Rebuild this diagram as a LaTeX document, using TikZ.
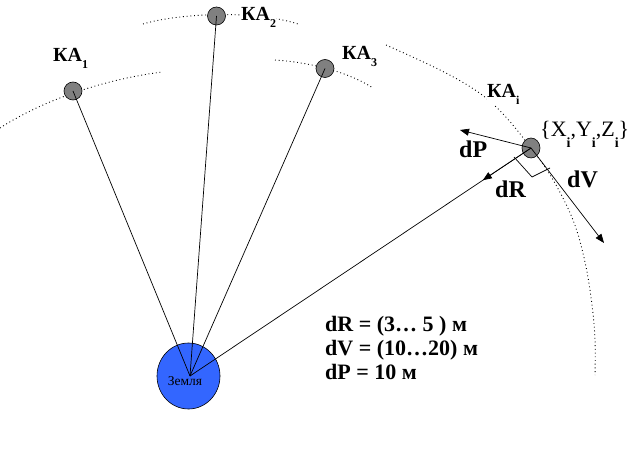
\documentclass[tikz,border=0pt]{standalone}
\usepackage{fontspec}
\setmainfont{Liberation Serif}
\usetikzlibrary{arrows.meta,calc,shapes.geometric}
\definecolor{earthblue}{RGB}{51,102,255}
\definecolor{satgray}{RGB}{128,128,128}
\newcommand\kasub[1]{\raisebox{-7pt}{\fontsize{12}{12}\selectfont\bfseries #1}}
\newcommand\xsub[1]{\raisebox{-11pt}{\fontsize{14}{14}\selectfont\bfseries #1}}
\begin{document}
\begin{tikzpicture}[x=1pt,y=-1pt,
  sat/.style={circle,draw=black,fill=satgray,minimum size=18pt,inner sep=0pt,line width=0.6pt},
  orbit/.style={line width=0.9pt,dash pattern=on 0.9pt off 2.8pt},
  ray/.style={line width=0.7pt},
  vec/.style={line width=0.7pt,-{Triangle[length=9pt,width=7pt]}},
  lbl/.style={font=\fontsize{20}{24}\selectfont\bfseries,inner sep=0pt,anchor=base west},
  big/.style={font=\fontsize{24}{28}\selectfont\bfseries,inner sep=0pt,anchor=base west},
  coord/.style={font=\fontsize{22}{24}\selectfont,inner sep=0pt,anchor=base west},
  info/.style={font=\fontsize{22}{24}\selectfont\bfseries,inner sep=0pt,anchor=base west}]
\fill[white] (0,0) rectangle (637,449);
\useasboundingbox (0,0) rectangle (637,449);

% orbits
\draw[orbit] (0,128) .. controls (40,102) and (100,80) .. (162,72);
\draw[orbit] (143,24) .. controls (180,13) and (255,10) .. (298,24);
\draw[orbit] (275,60) .. controls (305,62) and (345,70) .. (373,88);
\draw[orbit] plot[smooth,tension=0.6] coordinates {(386,45) (440,70) (478,92) (504,115) (531,148) (552,178) (573,220) (585,262) (592,305) (595,340) (595,375)};

% earth
\node[ellipse,draw=black,fill=earthblue,minimum width=63pt,minimum height=66pt,inner sep=0pt,line width=0.6pt] (earth) at (188.5,376) {};
\node[font=\fontsize{13.5}{13.5}\selectfont,inner sep=0pt] (earthlbl) at (185,381) {Земля};
\coordinate (ec) at (190,376);

% satellites
\node[sat] (s1) at (73,91) {};
\node[sat] (s2) at (216.5,16) {};
\node[sat] (s3) at (325,68.5) {};
\node[sat,minimum width=18pt,minimum height=20pt,ellipse] (si) at (531,148) {};

% labels
\node[lbl] (l1) at (53,62) {КА\kasub{1}};
\node[lbl,fill=white] (l2) at (241,21) {КА\kasub{2}};
\node[lbl] (l3) at (342,60) {КА\kasub{3}};
\node[lbl,fill=white] (li) at (487,98) {КА\kasub{i}};
\node[coord] (xyz) at (540,137) {\{X\xsub{i},Y\xsub{i},Z\xsub{i}\}};

% rays
\draw[ray] (ec) -- (s1.center);
\draw[ray] (ec) -- (s2.center);
\draw[ray] (ec) -- (s3.center);
\draw[ray] (ec) -- (si.center);

% vectors
\coordinate (dPend) at (460,130);
\coordinate (dVend) at (604,243);
\coordinate (dRend) at ($(si.center)!58pt!(ec)$);
\draw[vec] (si.center) -- (dPend);
\draw[vec] (si.center) -- (dVend);
\draw[vec] (si.center) -- (dRend);
\draw[ray] (514,157) -- (532,177) -- (550,168);

\node[big] (ldP) at (459,158) {dP};
\node[big] (ldR) at (495,197) {dR};
\node[big] (ldV) at (567,188) {dV};

% info text
\node[info] (t1) at (325,331) {dR = (3… 5 ) м};
\node[info] (t2) at (325,355) {dV = (10…20) м};
\node[info] (t3) at (325,379) {dP = 10 м};
\end{tikzpicture}
\end{document}
